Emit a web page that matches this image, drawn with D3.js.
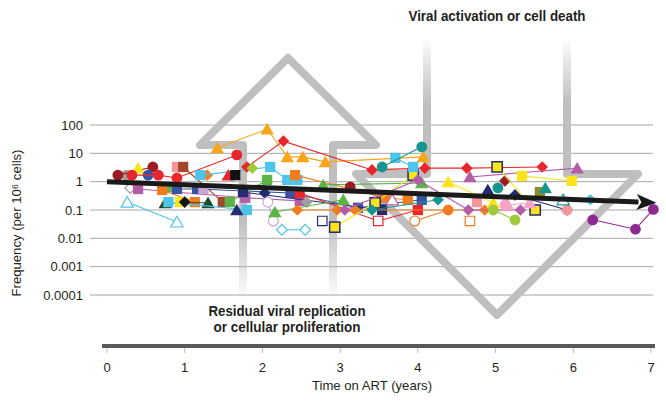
<!DOCTYPE html>
<html><head><meta charset="utf-8">
<script src="https://cdn.jsdelivr.net/npm/d3@7"></script>
<style>
html,body{margin:0;padding:0;background:#fff;}
svg{display:block;}
text{font-family:"Liberation Sans Narrow","Liberation Sans",Arial,sans-serif;}
</style></head>
<body>
<svg id="chart" width="666" height="403"></svg>
<script>
// ---------- axis / labels ----------
const xTicks = [0,1,2,3,4,5,6,7];
const yTicks = [100,10,1,0.1,0.01,0.001,0.0001];
const yTickLabels = ["100","10","1","0.1","0.01","0.001","0.0001"];
const xTitle = "Time on ART (years)";
const yTitle = "Frequency (per 10⁶ cells)";
const topNote = "Viral activation or cell death";
const bottomNote = ["Residual viral replication","or cellular proliferation"];

// ---------- trend (time, frequency) ----------
const trend = [[0,1],[7.07,0.18]];

// ---------- patient series: [time on ART (years), frequency per 10^6 cells] ----------
const p01 = [[0.14,1.7],[0.59,3.3]];
const p02 = [[0.32,1.7],[0.66,1.7],[0.90,1.35],[1.67,8.8]];
const p03 = [[0.40,3.0]];
const p04 = [[0.53,1.7]];
const p05 = [[0.90,3.3]];
const p06 = [[0.98,3.3],[1.49,0.19]];
const p07 = [[1.20,1.7],[2.10,3.3],[2.32,1.15],[2.45,1.15]];
const p08 = [[3.71,6.9],[3.94,3.3]];
const p09 = [[3.54,3.3],[4.05,17]];
const p10 = [[0.71,0.51],[1.13,0.19]];
const p11 = [[2.42,1.7],[3.58,0.27],[3.87,0.23]];
const p12 = [[1.42,15.5],[2.06,72],[2.32,7.5],[2.52,7.5],[2.81,5.0],[4.07,7.5]];
const p13 = [[1.56,1.7]];
const p14 = [[1.65,1.7]];
const p15 = [[1.80,3.3],[2.27,27],[3.41,2.6],[4.09,3.0],[4.63,3.0],[5.60,3.3]];
const p16 = [[1.87,3.0]];
const p17 = [[1.58,0.19],[2.06,1.15]];
const p18 = [[2.93,0.025],[3.45,0.18],[3.94,1.7]];
const p19 = [[5.02,3.3],[5.51,0.1]];
const p20 = [[3.06,0.1],[4.00,1.15],[4.65,0.1],[5.32,0.1]];
const p21 = [[4.67,1.47],[6.05,3.0]];
const p22 = [[5.12,1.06]];
const p23 = [[5.03,0.6]];
const p24 = [[4.90,0.51]];
const p25 = [[5.34,1.6],[5.98,1.06]];
const p26 = [[5.57,0.43]];
const p27 = [[5.64,0.6]];
const p28 = [[5.25,0.34],[5.92,0.1]];
const p29 = [[5.87,0.23]];
const p30 = [[6.22,0.23]];
const p31 = [[3.13,0.65]];
const p32 = [[2.78,0.77],[4.05,0.9]];
const p33 = [[2.16,0.085],[3.04,0.23]];
const p34 = [[0.30,0.6]];
const p35 = [[0.40,0.55],[1.78,0.27],[2.48,0.21]];
const p36 = [[0.77,0.6]];
const p37 = [[0.90,0.55],[1.16,0.55],[2.36,0.40],[3.23,0.12],[4.05,0.23]];
const p38 = [[1.24,0.55]];
const p39 = [[0.26,0.19],[0.90,0.038]];
const p40 = [[0.75,0.18],[1.30,0.18]];
const p41 = [[0.79,0.19],[1.80,0.1]];
const p42 = [[0.94,0.19]];
const p43 = [[1.00,0.19]];
const p44 = [[1.67,0.1]];
const p45 = [[1.75,0.43],[3.54,0.1]];
const p46 = [[2.03,0.40]];
const p47 = [[2.48,0.40],[3.49,0.041],[4.00,0.1]];
const p48 = [[2.57,0.19]];
const p49 = [[2.07,0.19],[2.14,0.041]];
const p50 = [[2.25,0.02],[2.55,0.02]];
const p51 = [[2.77,0.041]];
const p52 = [[3.67,0.23]];
const p53 = [[3.96,0.041],[4.39,0.1]];
const p54 = [[4.67,0.041]];
const p55 = [[4.76,0.19]];
const p56 = [[4.39,0.98],[4.97,0.18]];
const p57 = [[5.12,0.15]];
const p58 = [[5.16,0.15],[5.44,0.18]];
const p59 = [[4.97,0.1],[5.25,0.045]];
const p60 = [[5.92,0.1]];
const p61 = [[6.25,0.045],[6.80,0.021],[7.03,0.105]];
const p62 = [[2.45,0.1],[2.96,0.1],[3.19,0.1],[4.86,0.1]];
const p63 = [[1.29,1.7]];
const p64 = [[3.41,0.1],[4.26,0.23]];
const p65 = [[0.25,1.7]];

// ---------- styles ----------
const COL = {
  maroon:"#9c1c23", red:"#e8262b", orange:"#f37c21", amber:"#f9a51a", yellow:"#fbe41b",
  lime:"#a1c93a", green:"#5bb446", dkgreen:"#1e4b2c", teal:"#179690", ltblue:"#4dc4ec",
  blue:"#3853a4", navy:"#232c70", purple:"#b35ca8", dkpurple:"#8c2a8f", pink:"#f5a3c7",
  salmon:"#f3969a", brown:"#a4472b", olive:"#8c8a2c", black:"#121212", gray:"#a0a0a0", lilac:"#c9a6d0"
};
// [data, colour, shape, open-point indices ("all" = all open), outline colour]
const seriesStyle = [
  [p65,"gray","circle"],
  [p01,"maroon","circle"],
  [p03,"yellow","triangle"],
  [p04,"blue","circle"],
  [p02,"red","circle"],
  [p05,"salmon","square"],
  [p06,"brown","square"],
  [p34,"gray","diamond","all"],
  [p35,"purple","square"],
  [p36,"green","circle"],
  [p10,"orange","square"],
  [p37,"blue","square"],
  [p38,"lilac","square"],
  [p39,"ltblue","triangle","all"],
  [p40,"dkgreen","triangle"],
  [p41,"ltblue","square"],
  [p42,"yellow","square"],
  [p43,"black","diamond"],
  [p63,"orange","diamond"],
  [p07,"ltblue","square"],
  [p12,"amber","triangle"],
  [p13,"red","triangle"],
  [p14,"black","square"],
  [p17,"green","square"],
  [p44,"navy","triangle"],
  [p45,"navy","square"],
  [p46,"navy","diamond"],
  [p15,"red","diamond"],
  [p16,"lime","diamond"],
  [p11,"orange","square"],
  [p48,"gray","diamond"],
  [p49,"lilac","circle","all"],
  [p50,"ltblue","diamond","all"],
  [p51,"navy","square","all"],
  [p47,"red","square",[1]],
  [p33,"green","triangle"],
  [p32,"green","triangle"],
  [p31,"maroon","circle"],
  [p62,"orange","diamond"],
  [p18,"yellow","square",null,"navy"],
  [p64,"teal","diamond"],
  [p52,"purple","triangle","all"],
  [p20,"purple","diamond"],
  [p08,"ltblue","square"],
  [p09,"teal","circle"],
  [p53,"orange","circle",[0]],
  [p54,"orange","square","all"],
  [p55,"salmon","square"],
  [p56,"yellow","triangle"],
  [p21,"purple","triangle"],
  [p24,"navy","triangle"],
  [p23,"teal","circle"],
  [p22,"maroon","diamond"],
  [p59,"lime","circle"],
  [p19,"yellow","square",null,"navy"],
  [p57,"pink","circle"],
  [p58,"pink","triangle"],
  [p28,"navy","diamond"],
  [p60,"salmon","circle"],
  [p25,"yellow","square"],
  [p26,"olive","square"],
  [p27,"teal","triangle"],
  [p29,"teal","triangle","all"],
  [p30,"ltblue","diamond"],
  [p61,"dkpurple","circle"]
];

// ---------- drawing ----------
const svg = d3.select("#chart");
const x = d3.scaleLinear().domain([0,7]).range([107,651]);
const y = d3.scaleLog().domain([0.0001,100]).range([295,125]);

function fit(sel, w){ sel.attr("textLength",w).attr("lengthAdjust","spacingAndGlyphs"); return sel; }

const defs = svg.append("defs");
const gUp = defs.append("linearGradient").attr("id","fadeUp")
  .attr("gradientUnits","userSpaceOnUse").attr("x1",0).attr("x2",0).attr("y1",50).attr("y2",300);
gUp.append("stop").attr("offset","0%").attr("stop-color","#bfbfbf").attr("stop-opacity",1);
gUp.append("stop").attr("offset","68%").attr("stop-color","#bfbfbf").attr("stop-opacity",1);
gUp.append("stop").attr("offset","100%").attr("stop-color","#bfbfbf").attr("stop-opacity",0);
const gDn = defs.append("linearGradient").attr("id","fadeDown")
  .attr("gradientUnits","userSpaceOnUse").attr("x1",0).attr("x2",0).attr("y1",38).attr("y2",330);
gDn.append("stop").attr("offset","0%").attr("stop-color","#bfbfbf").attr("stop-opacity",0);
gDn.append("stop").attr("offset","22%").attr("stop-color","#bfbfbf").attr("stop-opacity",1);
gDn.append("stop").attr("offset","100%").attr("stop-color","#bfbfbf").attr("stop-opacity",1);

// gridlines
svg.append("g").selectAll("line").data(yTicks).join("line")
  .attr("x1",90).attr("x2",653).attr("y1",d=>y(d)).attr("y2",d=>y(d))
  .attr("stroke","#a6a6a6").attr("stroke-width",1);

// background arrows
svg.append("path")
  .attr("d","M243,302 L243,145 L200,145 L288,58 L376,145 L333,145 L333,302")
  .attr("fill","none").attr("stroke","url(#fadeUp)").attr("stroke-width",8)
  .attr("stroke-linejoin","round");
svg.append("path")
  .attr("d","M427,38 L427,174 L356,174 L497,315 L638,174 L567,174 L567,38")
  .attr("fill","none").attr("stroke","url(#fadeDown)").attr("stroke-width",8)
  .attr("stroke-linejoin","round");

// y tick labels
svg.append("g").selectAll("text").data(yTicks).join("text")
  .attr("x",83).attr("y",d=>y(d)).attr("dy","0.35em").attr("text-anchor","end")
  .attr("font-size",13).attr("fill","#231f20").text((d,i)=>yTickLabels[i]);

// x axis
svg.append("line").attr("x1",102).attr("x2",655).attr("y1",346).attr("y2",346)
  .attr("stroke","#58595b").attr("stroke-width",4);
svg.append("g").selectAll("line").data(xTicks).join("line")
  .attr("x1",d=>x(d)).attr("x2",d=>x(d)).attr("y1",348).attr("y2",353)
  .attr("stroke","#bbbbbb").attr("stroke-width",1);
svg.append("g").selectAll("text").data(xTicks).join("text")
  .attr("x",d=>x(d)).attr("y",367).attr("dy","0.35em").attr("text-anchor","middle")
  .attr("font-size",13).attr("fill","#231f20").text(d=>d);
fit(svg.append("text").attr("x",372).attr("y",385).attr("dy","0.35em").attr("text-anchor","middle")
  .attr("font-size",13).attr("fill","#231f20").text(xTitle), 120);
fit(svg.append("text").attr("transform","translate(16,223) rotate(-90)").attr("dy","0.35em")
  .attr("text-anchor","middle").attr("font-size",13).attr("fill","#231f20").text(yTitle), 147);

// notes
fit(svg.append("text").attr("x",497).attr("y",16).attr("dy","0.35em").attr("text-anchor","middle")
  .attr("font-size",14).attr("font-weight","bold").attr("fill","#231f20").text(topNote), 177);
const bw = [157,147];
svg.append("g").selectAll("text").data(bottomNote).join("text")
  .attr("x",287).attr("y",(d,i)=>311+i*16).attr("dy","0.35em").attr("text-anchor","middle")
  .attr("font-size",14).attr("font-weight","bold").attr("fill","#231f20")
  .attr("textLength",(d,i)=>bw[i]).attr("lengthAdjust","spacingAndGlyphs").text(d=>d);

// data series
const line = d3.line().x(d=>x(d[0])).y(d=>y(d[1]));
const symType = {circle:d3.symbolCircle, square:d3.symbolSquare, triangle:d3.symbolTriangle, diamond:d3.symbolSquare};
const symSize = {circle:92, square:105, triangle:78, diamond:68};
const gData = svg.append("g");
seriesStyle.forEach(([data,col,shape,open,outline])=>{
  const c = COL[col];
  const g = gData.append("g");
  if (data.length>1) g.append("path").attr("d",line(data)).attr("fill","none")
      .attr("stroke",c).attr("stroke-width",1.1);
  data.forEach((d,i)=>{
    const isOpen = open==="all" || (Array.isArray(open) && open.includes(i));
    const rot = shape==="diamond" ? 45 : 0;
    const dy = shape==="triangle" ? 1.5 : 0;
    g.append("path")
      .attr("d", d3.symbol().type(symType[shape]).size(isOpen? symSize[shape]*0.85 : symSize[shape])())
      .attr("transform",`translate(${x(d[0])},${y(d[1])+dy}) rotate(${rot})`)
      .attr("fill", isOpen ? "#fff" : c)
      .attr("stroke", outline ? COL[outline] : (isOpen ? c : "none"))
      .attr("stroke-width", outline ? 1.5 : 1.2);
  });
});

// trend arrow
const [t0,t1] = trend;
const ax0 = x(t0[0]), ay0 = y(t0[1]), ax1 = x(t1[0]), ay1 = y(t1[1]);
const ang = Math.atan2(ay1-ay0, ax1-ax0);
const headL = 20, headW = 8;
const bx = ax1 - headL*Math.cos(ang), by = ay1 - headL*Math.sin(ang);
svg.append("line").attr("x1",ax0).attr("y1",ay0).attr("x2",bx+2*Math.cos(ang)).attr("y2",by+2*Math.sin(ang))
  .attr("stroke","#1a1a1a").attr("stroke-width",5);
svg.append("path").attr("d",
  `M${ax1},${ay1} L${bx - headW*Math.sin(ang)},${by + headW*Math.cos(ang)} L${bx + 5*Math.cos(ang)},${by + 5*Math.sin(ang)} L${bx + headW*Math.sin(ang)},${by - headW*Math.cos(ang)} Z`)
  .attr("fill","#1a1a1a");
</script>
</body></html>
